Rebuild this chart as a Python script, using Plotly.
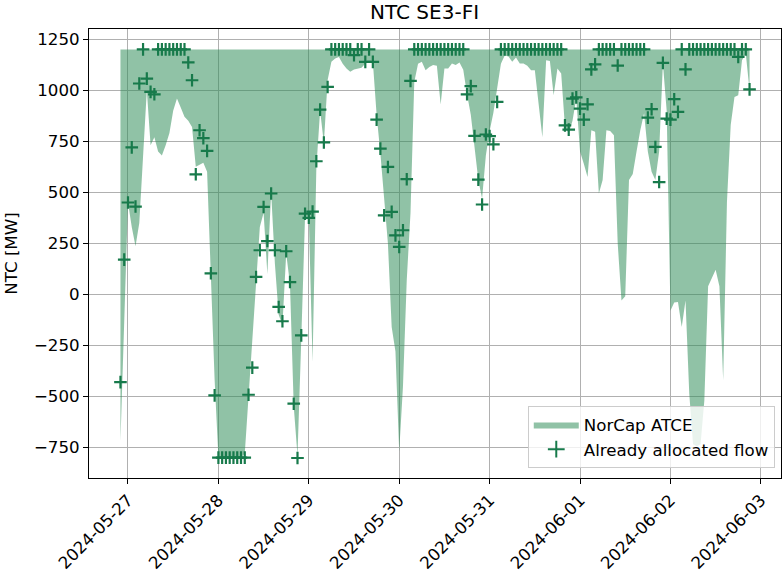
import pandas as pd
import plotly.graph_objects as go

# ---------------- data ----------------
start_time = "2024-05-26 22:00"
n_hours = 168
times = pd.date_range(start_time, periods=n_hours, freq="h")

atce_upper = [1200] * n_hours

atce_lower = [
    -720, -180, 450, 330, 235, 350, 700, 1000, 730, 770,
    700, 680, 730, 790, 900, 960, 915, 870, 850, 820,
    625, 635, 645, 600, 70, -420, -800, -800, -800, -800,
    -800, -800, -800, -780, -490, -220, 50, 330, 400, 100,
    500, 150, -100, -150, 200, 50, -550, -790, -220, 380,
    380, -330, 620, 900, 740, 1050, 1140, 1155, 1163, 1130,
    1106, 1090, 1102, 1106, 1110, 1131, 1139, 1139, 880, 690,
    460, 250, -160, -280, -770, -450, 70, 400, 1040, 1130,
    1139, 1098, 1114, 1123, 1120, 930, 1106, 1106, 1131, 1123,
    1136, 1100, 980, 880, 720, 560, 470, 680, 800, 890,
    1010, 1130, 1170, 1165, 1139, 1160, 1131, 1131, 1120, 1098,
    1098, 930, 770, 1147, 1143, 975, 1106, 1082, 820, 790,
    850, 960, 700, 640, 575, 804, 796, 494, 560, 804,
    800, 780, 250, -30, -10, 560, 590, 700, 804, 887,
    700, 600, 560, 700, 1131, 900, -80, -40, -38, -160,
    -30, -487, -735, -745, -735, -520, 40, 80, 120, 40,
    -420, 450, 830, 967, 975, 1147, 1180, 1000,
]

allocated_flow = [
    -430, 170, 450, 720, 430, 1033, 1200, 1057, 992, 980,
    1200, 1200, 1200, 1200, 1200, 1200, 1200, 1200, 1136, 1049,
    588, 804, 765, 703, 103, -495, -800, -800, -800, -800,
    -800, -800, -800, -800, -492, -359, 85, 216, 428, 261,
    494, 216, -62, -132, 211, 60, -536, -802, -201, 395,
    375, 405, 652, 905, 744, 1016, 1200, 1200, 1200, 1200,
    1200, 1200, 1172, 1200, 1200, 1139, 1200, 1139, 856, 714,
    387, 624, 404, 289, 232, 314, 564, 1046, 1200, 1200,
    1200, 1200, 1200, 1200, 1200, 1200, 1200, 1200, 1200, 1200,
    1200, 1200, 980, 1020, 776, 562, 440, 783, 775, 735,
    943, 1200, 1200, 1200, 1200, 1200, 1200, 1200, 1200, 1200,
    1200, 1200, 1200, 1200, 1200, 1200, 1200, 1200, 828, 807,
    959, 965, 910, 856, 931, 1102, 1127, 1200, 1200, 1200,
    1200, 1200, 1121, 1200, 1200, 1200, 1200, 1200, 1200, 1200,
    866, 907, 722, 550, 1134, 861, 856, 956, 894, 1200,
    1102, 1200, 1200, 1200, 1200, 1200, 1200, 1200, 1200, 1200,
    1200, 1200, 1200, 1200, 1163, 1200, 1200, 1004,
]

tick_dates = ["2024-05-27", "2024-05-28", "2024-05-29", "2024-05-30",
              "2024-05-31", "2024-06-01", "2024-06-02", "2024-06-03"]

title_text = "NTC SE3-FI"
y_label = "NTC [MW]"
fill_name = "NorCap ATCE"
marker_name = "Already allocated flow"

# ---------------- figure ----------------
FILL = "rgba(46,139,87,0.53)"
MARK = "#177a4b"
FONT = "DejaVu Sans"
FS = 16.67

fig = go.Figure()
fig.add_trace(go.Scatter(
    x=times, y=atce_upper, mode="lines", line=dict(width=0, color=FILL),
    showlegend=False, hoverinfo="skip"))
fig.add_trace(go.Scatter(
    x=times, y=atce_lower, mode="lines", line=dict(width=0, color=FILL),
    fill="tonexty", fillcolor=FILL, name=fill_name))
fig.add_trace(go.Scatter(
    x=times, y=allocated_flow, mode="markers", name=marker_name,
    marker=dict(symbol="cross-thin", size=9, color=MARK,
                line=dict(width=2.2, color=MARK))))

span = times[-1] - times[0]
pad = span * 0.05
xr = [times[0] - pad, times[-1] + pad]

fig.update_layout(
    width=782, height=574,
    margin=dict(l=89, r=1, t=29, b=96),
    paper_bgcolor="white", plot_bgcolor="white",
    font=dict(family=FONT, size=FS, color="black"),
    title=dict(text=title_text, x=0.5429, xanchor="center", y=1 - 12 / 574,
               yanchor="middle", font=dict(size=20, family=FONT)),
    showlegend=True,
    legend=dict(x=0.991, y=0.022, xanchor="right", yanchor="bottom",
                traceorder="normal", itemwidth=45,
                bgcolor="rgba(255,255,255,0.8)", bordercolor="#cccccc",
                borderwidth=1, font=dict(size=FS, family=FONT),
                itemsizing="constant", tracegroupgap=0),
)
fig.update_xaxes(
    range=xr, type="date", automargin=False,
    tickvals=tick_dates, ticktext=tick_dates, tickangle=-45,
    showgrid=True, gridcolor="#b0b0b0", gridwidth=1,
    showline=True, linecolor="black", linewidth=1, mirror=True,
    ticks="outside", ticklen=5, tickcolor="black", zeroline=False,
    tickfont=dict(size=FS, family=FONT))
fig.update_yaxes(
    range=[-900, 1300], tickvals=list(range(-750, 1251, 250)),
    tickformat="d", automargin=False,
    showgrid=True, gridcolor="#b0b0b0", gridwidth=1,
    showline=True, linecolor="black", linewidth=1, mirror=True,
    ticks="outside", ticklen=5, tickcolor="black", zeroline=False,
    title=dict(text=y_label, font=dict(size=FS, family=FONT), standoff=12),
    tickfont=dict(size=FS, family=FONT))

fig.write_html("out.html", post_script="document.body.style.margin='0';",
               config={"displayModeBar": False})
